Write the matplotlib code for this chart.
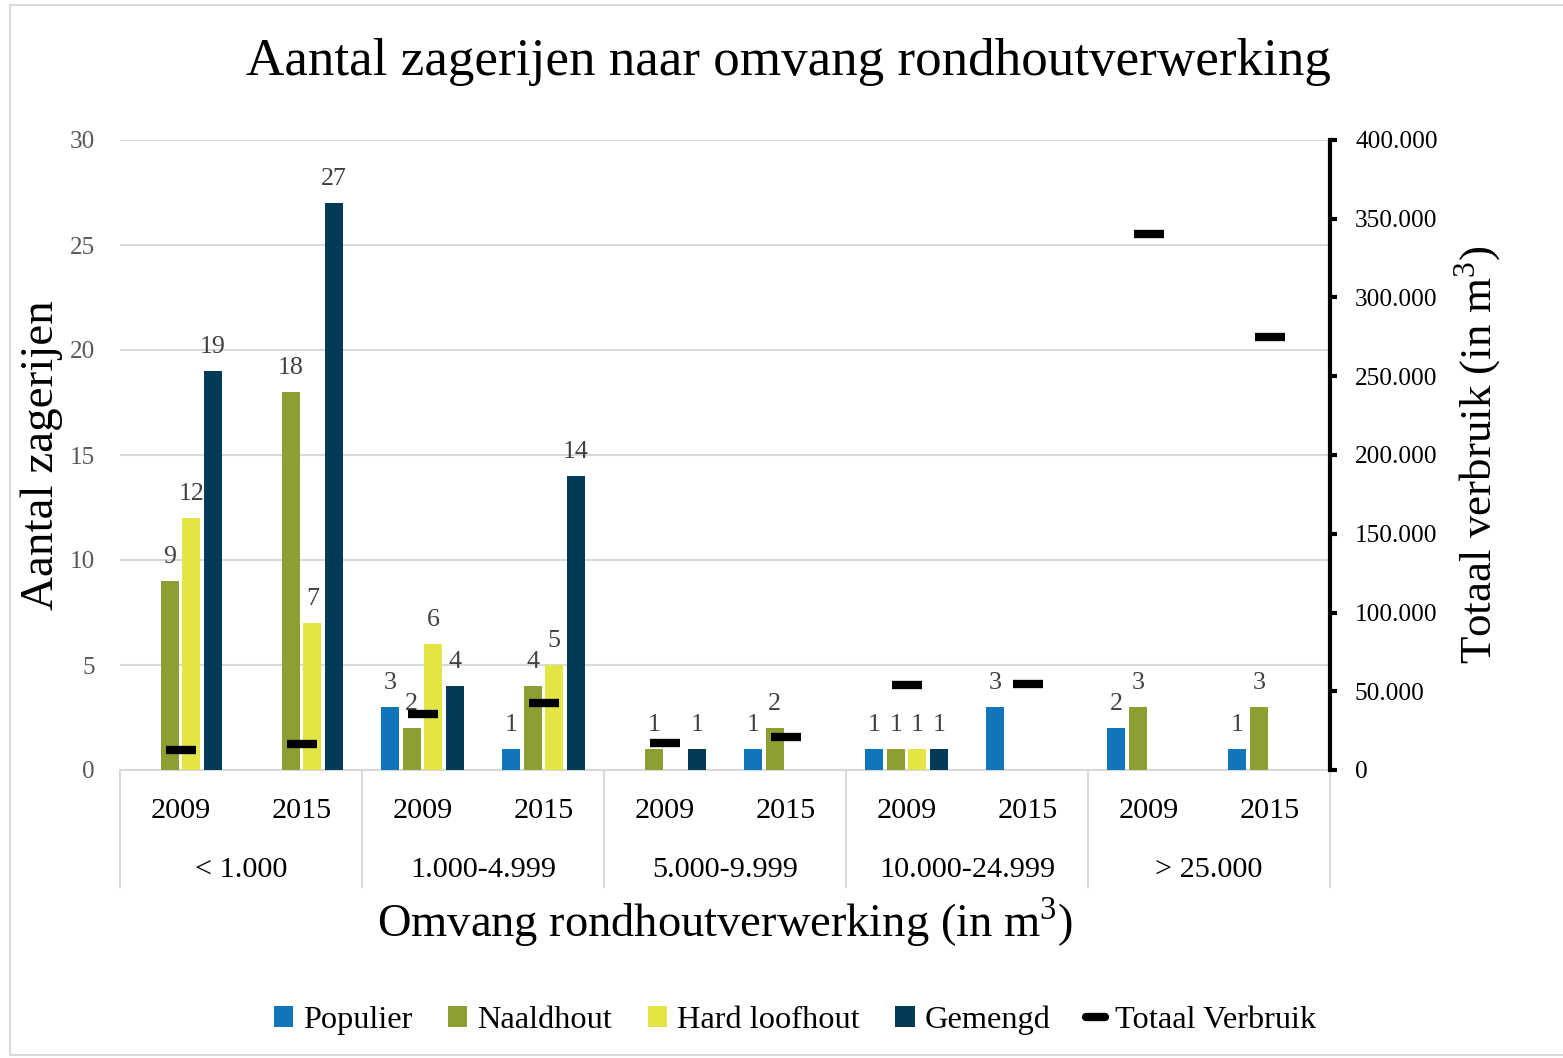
import matplotlib
matplotlib.use("Agg")
import matplotlib.pyplot as plt
from matplotlib.lines import Line2D
from matplotlib.patches import Patch, Rectangle
import matplotlib.ticker as mticker

plt.rcParams['font.family'] = ['Liberation Serif', 'DejaVu Serif']
plt.rcParams['mathtext.fontset'] = 'custom'
plt.rcParams['mathtext.rm'] = 'Liberation Serif'

groups = ["< 1.000", "1.000-4.999", "5.000-9.999", "10.000-24.999", "> 25.000"]
years = ["2009", "2015"]
series_names = ["Populier", "Naaldhout", "Hard loofhout", "Gemengd"]
colors = ["#1175BB", "#8E9E30", "#E2E544", "#023A58"]
populier = [0, 0, 3, 1, 0, 1, 1, 3, 2, 1]
naaldhout = [9, 18, 2, 4, 1, 2, 1, 0, 3, 3]
hard_loofhout = [12, 7, 6, 5, 0, 0, 1, 0, 0, 0]
gemengd = [19, 27, 4, 14, 1, 0, 1, 0, 0, 0]
totaal_verbruik = [13000, 16500, 35500, 42500, 17000, 21000, 54000, 54500, 340000, 275000]

W, H = 1563, 1058
fig = plt.figure(figsize=(W / 100, H / 100), dpi=100)
fig.patch.set_facecolor("white")
fig.patches.append(Rectangle((10 / W, 3 / H), 1.2, 1 - 8 / H, transform=fig.transFigure,
                             fill=False, edgecolor="#d9d9d9", linewidth=1.5))

L, R, T, B = 120, 1330, 140, 770
ax = fig.add_axes([L / W, 1 - B / H, (R - L) / W, (B - T) / H])
ax2 = ax.twinx()

renderer = fig.canvas.get_renderer()


def fit(txt, target, base=20, horiz=True):
    txt.set_fontsize(base)
    bb = txt.get_window_extent(renderer=renderer)
    size = bb.width if horiz else bb.height
    txt.set_fontsize(base * target / size)
    return txt.get_fontsize()


n = len(populier)
xs = list(range(n))
data = [populier, naaldhout, hard_loofhout, gemengd]
step = 0.178
bw = 0.145
probe = fig.text(0, 0, "27")
lblsize = fit(probe, 26)
probe.remove()
for i, (vals, col) in enumerate(zip(data, colors)):
    off = (i - 1.5) * step
    for x, v in zip(xs, vals):
        if v > 0:
            ax.bar(x + off, v, width=bw, color=col, zorder=3)
            ax.text(x + off, v + 0.6, str(v), ha="center", va="bottom",
                    color="#404040", fontsize=lblsize, zorder=4)

ax2.plot(xs, totaal_verbruik, linestyle="none", marker="_", markersize=22,
         markeredgewidth=6, color="black", zorder=5, solid_capstyle="round")

ax.set_xlim(-0.5, n - 0.5)
ax.set_ylim(0, 30)
ax2.set_ylim(0, 400000)
ax.set_yticks(range(0, 31, 5))
ax.grid(axis="y", color="#d9d9d9", linewidth=1.5, zorder=0)
ax.set_axisbelow(True)
for s in ["top", "left", "right"]:
    ax.spines[s].set_visible(False)
ax.spines["bottom"].set_color("#d9d9d9")
ax.spines["bottom"].set_linewidth(1.5)
probe = fig.text(0, 0, "30")
ylsize = fit(probe, 25)
probe.remove()
ax.tick_params(axis="y", length=0, pad=18, colors="#595959", labelsize=ylsize)
ax.tick_params(axis="x", length=0, labelbottom=False)

for s in ["top", "left", "bottom"]:
    ax2.spines[s].set_visible(False)
ax2.spines["right"].set_linewidth(3)
ax2.spines["right"].set_color("black")
ax2.yaxis.set_major_locator(mticker.MultipleLocator(50000))
ax2.yaxis.set_major_formatter(mticker.FuncFormatter(
    lambda v, p: f"{int(v):,}".replace(",", ".")))
probe = fig.text(0, 0, "400.000")
y2size = fit(probe, 82)
probe.remove()
ax2.tick_params(axis="y", direction="out", length=5, width=3, pad=13, colors="black",
                labelsize=y2size)

# category axis
trans = ax.get_xaxis_transform()
hpx = B - T
probe = fig.text(0, 0, "2009")
yrsize = fit(probe, 60)
probe.remove()
probe = fig.text(0, 0, "10.000-24.999")
gsize = fit(probe, 176)
probe.remove()
for x in xs:
    ax.text(x, -41 / hpx, years[x % 2], transform=trans, ha="center", va="center",
            color="black", fontsize=yrsize)
for g, name in enumerate(groups):
    ax.text(2 * g + 0.5, -100 / hpx, name, transform=trans, ha="center", va="center",
            color="black", fontsize=gsize)
for b in range(len(groups) + 1):
    ax.plot([2 * b - 0.5, 2 * b - 0.5], [0, -117 / hpx], transform=trans, color="#d9d9d9",
            linewidth=1.5, clip_on=False)

# titles
t = fig.text(788 / W, 1 - 62 / H, "Aantal zagerijen naar omvang rondhoutverwerking",
             ha="center", va="center", color="black")
fit(t, 1087)
t = fig.text(725 / W, 1 - 922 / H, r"Omvang rondhoutverwerking (in m$^3$)",
             ha="center", va="center", color="black")
fit(t, 696)
t = fig.text(42 / W, 1 - 455 / H, "Aantal zagerijen", rotation=90,
             ha="center", va="center", color="black")
fit(t, 310, horiz=False)
t = fig.text(1478 / W, 1 - 455 / H, r"Totaal verbruik (in m$^3$)", rotation=90,
             ha="center", va="center", color="black")
fit(t, 420, horiz=False)

# legend
handles = [Patch(facecolor=c, edgecolor="none") for c in colors]
handles.append(Line2D([0], [0], color="black", linewidth=6, solid_capstyle="round"))
labels = series_names + ["Totaal Verbruik"]
probe = fig.text(0, 0, "Populier")
legsize = fit(probe, 110)
probe.remove()
leg = fig.legend(handles, labels, loc="center", bbox_to_anchor=(795 / W, 1 - 1020 / H),
                 ncol=5, frameon=False, fontsize=legsize, handlelength=0.6,
                 handleheight=0.6, handletextpad=0.3, columnspacing=1.1)

fig.savefig("out.png", dpi=100, facecolor="white")
